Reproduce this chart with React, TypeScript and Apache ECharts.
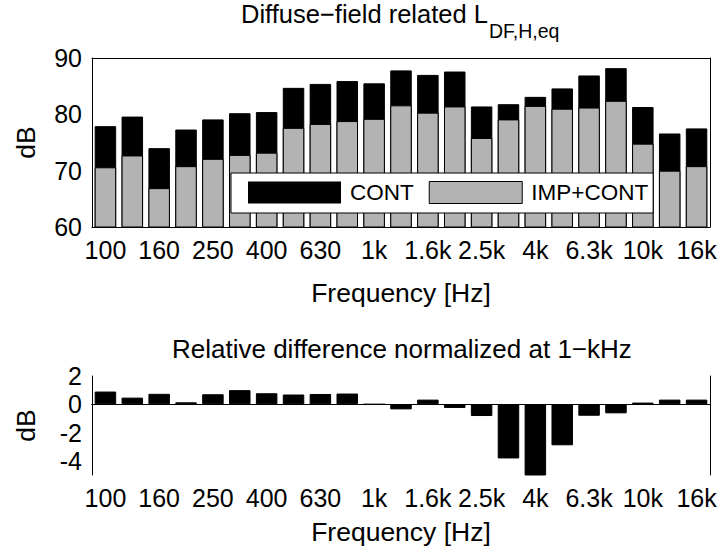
import React, { useEffect, useRef } from "react";
import * as echarts from "echarts";

const categories = ["100", "125", "160", "200", "250", "315", "400", "500", "630", "800", "1k", "1.25k", "1.6k", "2k", "2.5k", "3.15k", "4k", "5k", "6.3k", "8k", "10k", "12.5k", "16k"];
const cont = [77.9, 79.6, 74.0, 77.3, 79.1, 80.2, 80.4, 84.7, 85.4, 85.9, 85.5, 87.8, 87.0, 87.6, 81.4, 81.8, 83.1, 84.6, 86.9, 88.2, 81.3, 76.6, 77.5];
const impCont = [70.6, 72.7, 66.9, 70.8, 72.1, 72.8, 73.2, 77.6, 78.3, 78.8, 79.2, 81.6, 80.3, 81.4, 75.8, 79.1, 81.5, 81.0, 81.2, 82.4, 74.8, 70.0, 70.8];
const relDiff = [0.9, 0.47, 0.74, 0.14, 0.71, 1.0, 0.78, 0.69, 0.73, 0.76, 0, -0.36, 0.33, -0.26, -0.83, -3.83, -5.2, -2.9, -0.81, -0.64, 0.12, 0.33, 0.33];
const bottomTicks = [-4, -2, 0, 2];

const FONT = "Liberation Sans";
const GRAY = "#b3b3b3";

export default function App() {
  const ref = useRef<HTMLDivElement>(null);
  useEffect(() => {
    if (!ref.current) return;
    const chart = echarts.init(ref.current, null, { renderer: "svg" });
    const axisLine = { show: true, lineStyle: { color: "#000", width: 1 } };
    const tickStyle = { inside: true, length: 5, lineStyle: { color: "#000", width: 1 } };
    const catTick = { ...tickStyle, alignWithLabel: true, interval: 1 };
    const labelStyle = { color: "#000", fontFamily: FONT, fontSize: 25 };
    const nameStyle = { color: "#000", fontFamily: FONT, fontSize: 26.5 };

    chart.setOption({
      animation: false,
      backgroundColor: "#fff",
      textStyle: { fontFamily: FONT, color: "#000" },
      title: [
        {
          text: "{a|Diffuse\u2212field related L}{sub|DF,H,eq}",
          left: 241,
          top: 1,
          padding: 0,
          textStyle: {
            fontWeight: "normal",
            rich: {
              a: { fontFamily: FONT, fontSize: 25.5, fontWeight: "normal", color: "#000", lineHeight: 30, verticalAlign: "top" },
              sub: { fontFamily: FONT, fontSize: 19.5, fontWeight: "normal", color: "#000", lineHeight: 22, padding: [20, 0, 0, 1], verticalAlign: "top" },
            },
          },
        },
        {
          text: "Relative difference normalized at 1\u2212kHz",
          left: 172,
          top: 334,
          padding: 0,
          textStyle: { fontFamily: FONT, fontSize: 26, color: "#000", fontWeight: "normal", lineHeight: 30 },
        },
      ],
      legend: {
        left: 231,
        top: 173,
        orient: "horizontal",
        padding: [8, 5, 9, 17],
        borderColor: "#000",
        borderWidth: 1,
        backgroundColor: "#fff",
        itemWidth: 93,
        itemHeight: 22,
        itemGap: 15,
        selectedMode: false,
        textStyle: { fontFamily: FONT, fontSize: 22.5, color: "#000", lineHeight: 22, padding: [0, 0, 0, 4] },
        data: [
          { name: "CONT", icon: "rect", itemStyle: { color: "#000", borderColor: "#000", borderWidth: 0 } },
          { name: "IMP+CONT", icon: "rect", itemStyle: { color: GRAY, borderColor: "#000", borderWidth: 1 } },
        ],
      },
      grid: [
        { left: 92, top: 58, width: 618, height: 169, containLabel: false, outerBoundsMode: "none" },
        { left: 92, top: 376, width: 618, height: 99, containLabel: false, outerBoundsMode: "none" },
      ],
      xAxis: [
        {
          type: "category", gridIndex: 0, data: categories, position: "bottom",
          axisLine, axisTick: catTick,
          axisLabel: { ...labelStyle, interval: 1, margin: 10 },
          name: "Frequency [Hz]", nameLocation: "middle", nameGap: 52, nameTextStyle: nameStyle, nameMoveOverlap: false,
        },
        {
          type: "category", gridIndex: 0, data: categories, position: "top",
          axisLine, axisTick: catTick, axisLabel: { show: false },
        },
        {
          type: "category", gridIndex: 1, data: categories, position: "bottom",
          axisLine, axisTick: catTick,
          axisLabel: { ...labelStyle, interval: 1, margin: 10 },
          name: "Frequency [Hz]", nameLocation: "middle", nameGap: 43, nameTextStyle: nameStyle, nameMoveOverlap: false,
        },
        {
          type: "category", gridIndex: 1, data: categories, position: "top",
          axisLine, axisTick: catTick, axisLabel: { show: false },
        },
      ],
      yAxis: [
        {
          type: "value", gridIndex: 0, min: 60, max: 90, interval: 10, position: "left",
          axisLine, axisTick: tickStyle, splitLine: { show: false },
          axisLabel: { ...labelStyle, margin: 10 },
          name: "dB", nameLocation: "middle", nameGap: 53, nameTextStyle: nameStyle, nameMoveOverlap: false,
        },
        {
          type: "value", gridIndex: 0, min: 60, max: 90, interval: 10, position: "right",
          axisLine, axisTick: tickStyle, splitLine: { show: false }, axisLabel: { show: false },
        },
        {
          type: "value", gridIndex: 1, min: -5, max: 2, position: "left",
          axisLine, axisTick: { ...tickStyle, customValues: bottomTicks }, splitLine: { show: false },
          axisLabel: { ...labelStyle, margin: 10, customValues: bottomTicks },
          name: "dB", nameLocation: "middle", nameGap: 53, nameTextStyle: nameStyle, nameMoveOverlap: false,
        },
        {
          type: "value", gridIndex: 1, min: -5, max: 2, position: "right",
          axisLine, axisTick: { ...tickStyle, customValues: bottomTicks }, splitLine: { show: false },
          axisLabel: { show: false },
        },
      ],
      series: [
        {
          name: "CONT", type: "bar", xAxisIndex: 0, yAxisIndex: 0, data: cont,
          barWidth: "80%", barGap: "-100%",
          itemStyle: { color: "#000", borderColor: "#000", borderWidth: 1 },
        },
        {
          name: "IMP+CONT", type: "bar", xAxisIndex: 0, yAxisIndex: 0, data: impCont,
          barWidth: "80%", barGap: "-100%",
          itemStyle: { color: GRAY, borderColor: "#000", borderWidth: 1 },
        },
        {
          name: "diff", type: "bar", xAxisIndex: 2, yAxisIndex: 2, data: relDiff,
          barWidth: "80%",
          itemStyle: { color: "#000", borderColor: "#000", borderWidth: 1 },
        },
      ],
    });
    return () => chart.dispose();
  }, []);
  return (
    <div
      ref={ref}
      style={{ position: "fixed", left: 0, top: 0, width: 719, height: 550, background: "#fff" }}
    />
  );
}
